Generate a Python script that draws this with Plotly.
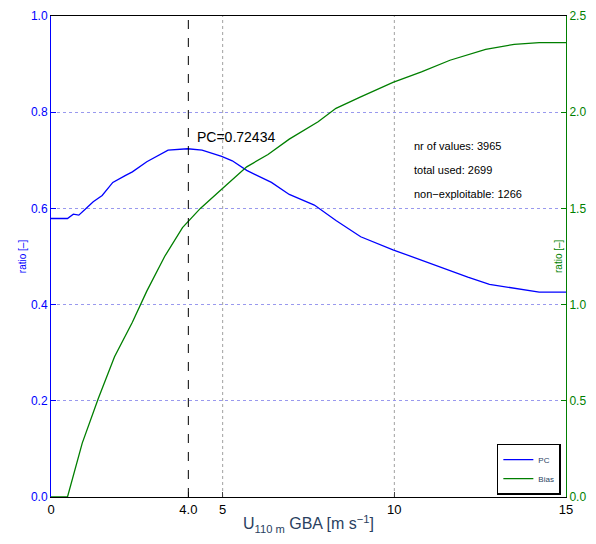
import plotly.graph_objects as go

pc_x = [0, 0.48, 0.65, 0.81, 1.02, 1.23, 1.49, 1.80, 2.16, 2.37, 2.79, 3.10, 3.41, 3.98, 4.40, 4.97, 5.28, 5.70, 6.42, 6.94, 7.67, 8.30, 9.02, 9.96, 10.79, 11.41, 12.14, 12.77, 13.49, 14.22, 15]
pc_y = [0.579, 0.579, 0.588, 0.586, 0.600, 0.614, 0.627, 0.654, 0.668, 0.676, 0.697, 0.709, 0.721, 0.724, 0.721, 0.708, 0.699, 0.679, 0.654, 0.629, 0.607, 0.575, 0.541, 0.514, 0.492, 0.475, 0.457, 0.442, 0.434, 0.426, 0.426]
bias_x = [0, 0.48, 0.91, 1.38, 1.85, 2.37, 2.79, 3.31, 3.83, 4.35, 4.97, 5.70, 6.32, 6.94, 7.78, 8.30, 9.02, 9.96, 10.79, 11.62, 12.66, 13.49, 14.22, 15]
bias_y = [0, 0, 0.28, 0.513, 0.729, 0.908, 1.07, 1.25, 1.40, 1.50, 1.60, 1.716, 1.78, 1.86, 1.95, 2.02, 2.08, 2.155, 2.21, 2.27, 2.326, 2.353, 2.362, 2.362]
xticks = [0, 4.0, 5, 10, 15]
xtick_labels = ["0", "4.0", "5", "10", "15"]

blue = "#0000ff"; green = "#007f00"
fig = go.Figure()
fig.add_trace(go.Scatter(x=pc_x, y=pc_y, mode="lines", name="PC", line=dict(color=blue, width=1.3)))
fig.add_trace(go.Scatter(x=bias_x, y=bias_y, mode="lines", name="Bias", yaxis="y2", line=dict(color=green, width=1.3)))
fig.add_shape(type="line", x0=4.0, x1=4.0, y0=0, y1=1, xref="x", yref="y", line=dict(color="black", dash="dash", width=1))
for xv in [5, 10]:
    fig.add_shape(type="line", x0=xv, x1=xv, y0=0, y1=1, xref="x", yref="y", line=dict(color="#888", dash="dot", width=0.8), layer="below")
fig.add_annotation(x=4.19, y=0.749, text="PC=0.72434", showarrow=False, xanchor="left", font=dict(size=14, color="black"))
for t, yv in [("nr of values: 3965", 0.729), ("total used: 2699", 0.679), ("non−exploitable: 1266", 0.63)]:
    fig.add_annotation(x=10.5, y=yv, text=t, showarrow=False, xanchor="left", font=dict(size=11, color="black"))
fig.add_annotation(x=1, y=0.5, xref="paper", yref="paper", xanchor="right", text="ratio [–]", textangle=-90,
                   showarrow=False, font=dict(size=10, color=green))
fig.update_layout(
    width=588, height=536, plot_bgcolor="white", paper_bgcolor="white",
    margin=dict(l=43, r=30, t=8, b=47, autoexpand=False),
    font=dict(family="Liberation Sans, Arial", size=13),
    xaxis=dict(range=[0, 15], tickvals=xticks, ticktext=xtick_labels, showgrid=False, zeroline=False, automargin=False,
               showline=True, linecolor="black", mirror=True, ticks="inside", ticklen=5,
               title=dict(text="U<sub>110 m</sub> GBA [m s<sup>−1</sup>]", standoff=2), tickfont=dict(color="black")),
    yaxis=dict(range=[0, 1], dtick=0.2, tickformat=".1f", showgrid=True, gridcolor="#9999ee", griddash="dot", gridwidth=0.8,
               zeroline=False, showline=True, linecolor=blue, ticks="inside", ticklen=5, tickcolor=blue, automargin=False,
               tickfont=dict(color=blue, size=12), title=dict(text="ratio [–]", font=dict(color=blue, size=10), standoff=2)),
    yaxis2=dict(range=[0, 2.5], dtick=0.5, tickformat=".1f", overlaying="y", side="right", showgrid=False, zeroline=False,
                showline=True, linecolor=green, ticks="inside", ticklen=5, tickcolor=green, automargin=False,
                tickfont=dict(color=green, size=12)),
    legend=dict(x=0.99, y=0.005, xanchor="right", yanchor="bottom", bordercolor="black", borderwidth=1.5,
                bgcolor="white", font=dict(size=8), tracegroupgap=0, itemwidth=30),
    showlegend=True,
)
fig.write_html("out.html")
